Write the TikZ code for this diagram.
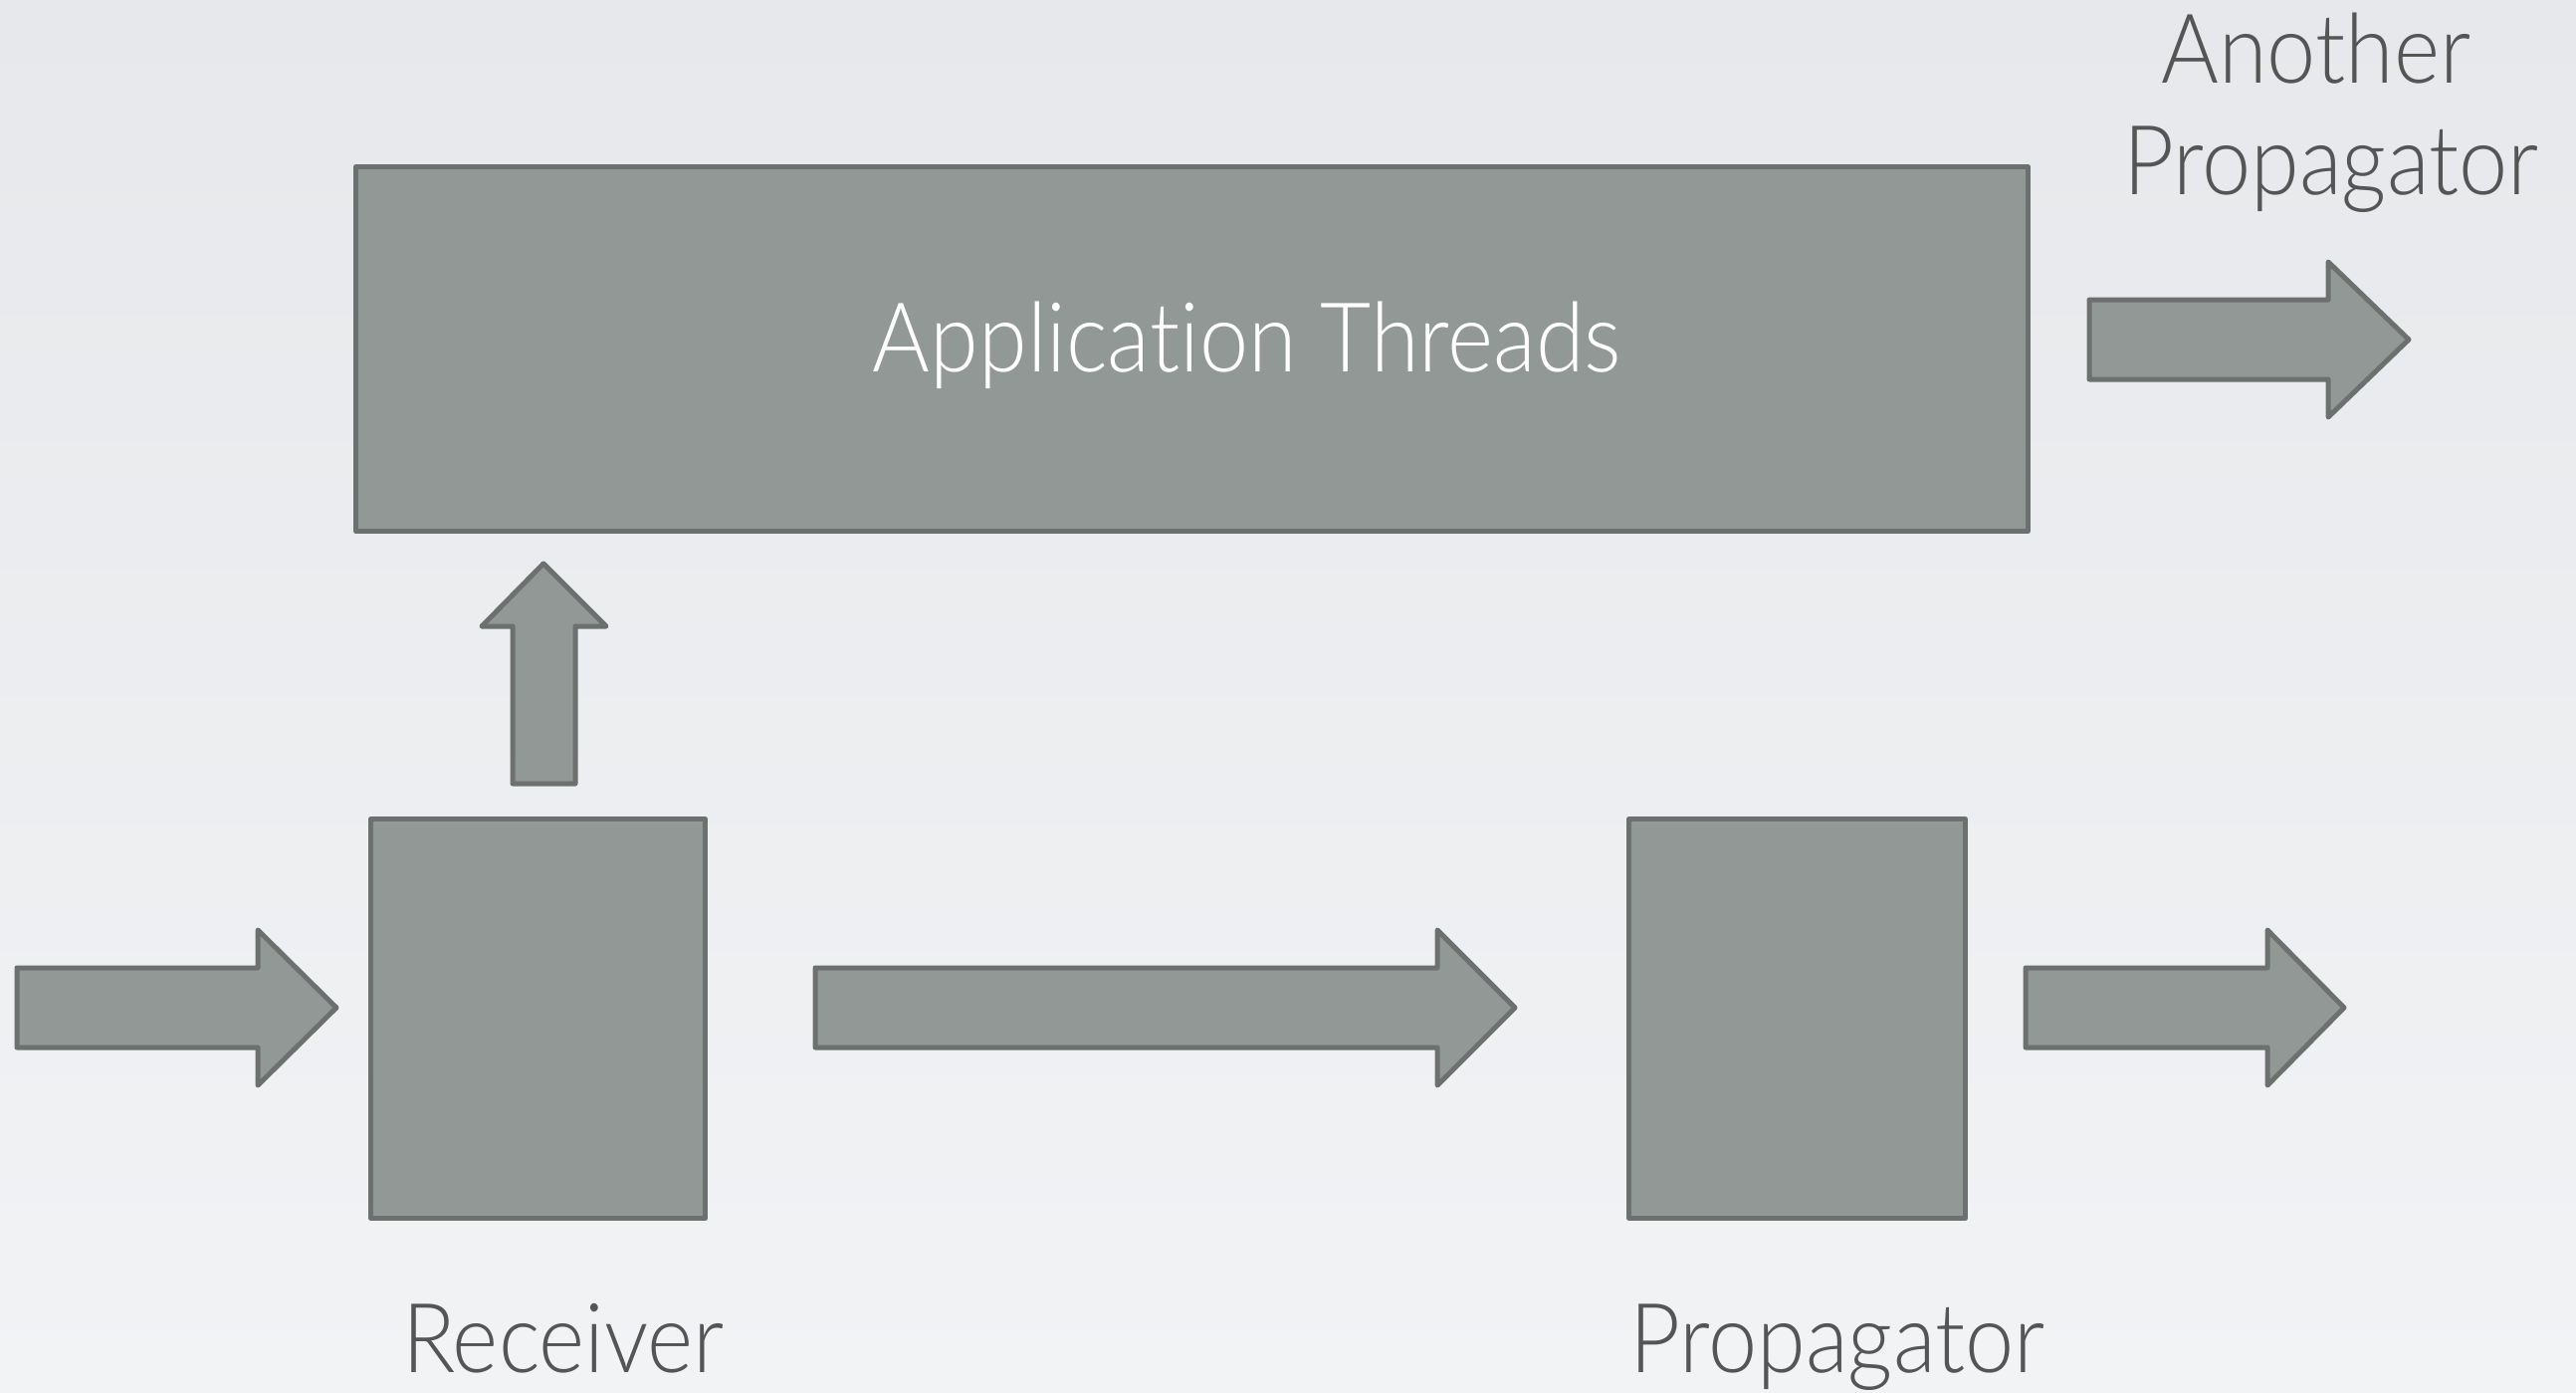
\documentclass[tikz,border=0pt]{standalone}
\usepackage{fontspec}
\setmainfont{Lato}[UprightFont=* Light, FakeStretch=0.91, Ligatures=NoCommon]
\definecolor{boxfill}{HTML}{929896}
\definecolor{boxline}{HTML}{6C706F}
\definecolor{labelgray}{HTML}{555555}
\definecolor{bgtop}{HTML}{E6E8EB}
\definecolor{bgbot}{HTML}{F2F3F5}
\newcommand\blkharrow[5]{% x0 x1 x2 yc name
  \coordinate (#5-tail) at (#1,#4);
  \coordinate (#5-tip) at (#3,#4);
  \draw[blkarrow] (#5-tail) ++(0,-40) -- (#2,#4-40) -- (#2,#4-78) -- (#5-tip) -- (#2,#4+78) -- (#2,#4+40) -- (#1,#4+40) -- cycle;}
\begin{document}
\begin{tikzpicture}[x=1pt,y=-1pt,
  blk/.style={fill=boxfill,draw=boxline,line width=5pt,line join=round,inner sep=0pt},
  blkarrow/.style={fill=boxfill,draw=boxline,line width=5pt,line join=round},
  lbl/.style={text=labelgray,font=\fontsize{97}{110}\selectfont,inner sep=0pt,anchor=base}]
\shade[top color=bgtop,bottom color=bgbot] (0,0) rectangle (2588,1398);
\useasboundingbox (0,0) rectangle (2588,1398);
% boxes
\node[blk,anchor=north west,minimum width=1680pt,minimum height=366pt] (app) at (355,165) {};
\node[lbl,text=white] (lapp) at (1253,373) {Application Threads};
\node[blk,anchor=north west,minimum width=336pt,minimum height=401pt] (recv) at (370,820) {};
\node[blk,anchor=north west,minimum width=338pt,minimum height=401pt] (prop) at (1634,820) {};
% block arrows
\blkharrow{17}{259}{338}{1012}{ain}
\blkharrow{819}{1444}{1522}{1012}{amid}
\blkharrow{2035}{2278}{2355}{1012}{aout}
\blkharrow{2099}{2339}{2420}{341}{aanother}
\coordinate (aup-tail) at (546,787);
\coordinate (aup-tip) at (546,566);
\draw[blkarrow] (515,787) -- (515,629) -- (484,629) -- (aup-tip) -- (609,629) -- (578,629) -- (578,787) -- cycle;
% labels
\node[lbl] (lrecv) at (566,1378) {Receiver};
\node[lbl] (lprop) at (1846,1378) {Propagator};
\node[lbl] (lanother1) at (2327,83) {Another};
\node[lbl] (lanother2) at (2342,195) {Propagator};
\end{tikzpicture}
\end{document}
